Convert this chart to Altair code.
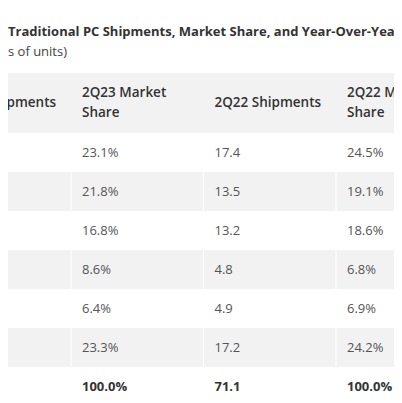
import altair as alt
import pandas as pd

# ---- data ----
title_text = "Traditional PC Shipments, Market Share, and Year-Over-Year Growth, Q2 2023"
subtitle_text = "s of units)"
columns = ["Company", "2Q23 Shipments", "2Q23 Market Share", "2Q22 Shipments",
           "2Q22 Market Share", "Year-Over-Year Growth"]
header_labels = ["Company", "2Q23 Shipments", "2Q23 Market\nShare", "2Q22 Shipments",
                 "2Q22 Market\nShare", "Year-Over-Year\nGrowth"]
companies = ["Lenovo", "HP", "Dell", "Apple", "Asus", "Others", "Total"]
share_2q23 = ["23.1%", "21.8%", "16.8%", "8.6%", "6.4%", "23.3%", "100.0%"]
ship_2q22 = ["17.4", "13.5", "13.2", "4.8", "4.9", "17.2", "71.1"]
share_2q22 = ["24.5%", "19.1%", "18.6%", "6.8%", "6.9%", "24.2%", "100.0%"]
visible_header_cols = ["2Q23 Shipments", "2Q23 Market Share", "2Q22 Shipments", "2Q22 Market Share"]
separator_cols = ["2Q23 Market Share", "2Q22 Shipments", "2Q22 Market Share"]

# ---- tables built from the lists ----
rows_df = pd.DataFrame({
    "company": companies,
    "shade": ["white" if i % 2 == 0 else "gray" for i in range(len(companies))],
})
cells = []
for i, c in enumerate(companies):
    for col, vals in (("2Q23 Market Share", share_2q23),
                      ("2Q22 Shipments", ship_2q22),
                      ("2Q22 Market Share", share_2q22)):
        cells.append({"company": c, "col": col, "ci": columns.index(col),
                      "val": vals[i], "total": c == "Total"})
cells_df = pd.DataFrame(cells)
hdr_df = pd.DataFrame({"col": columns, "ci": list(range(len(columns))), "label": header_labels})
hdr_df = hdr_df[hdr_df["col"].isin(visible_header_cols)].copy()
hdr_df["multi"] = hdr_df["label"].str.contains("\n")
sep_df = pd.DataFrame({"col": separator_cols, "ci": [columns.index(c) for c in separator_cols]})

FONT = "Open Sans"
W = 386
# column index -> left edge of the column (table scrolled so that only part is visible)
xscale = alt.Scale(type="linear", domain=[0, len(columns)], range=[-202, 593],
                   zero=False, nice=False)
yscale = alt.Scale(type="band", domain=companies, range=[60, 333],
                   paddingInner=0, paddingOuter=0, round=False)
X = alt.X("ci:Q", scale=xscale, axis=None)

header_bg = alt.Chart(alt.Data(values=[{"a": 1}])).mark_rect(color="#f2f2f2").encode(
    x=alt.value(0), x2=alt.value(W), y=alt.value(0), y2=alt.value(60))

body_bg = alt.Chart(rows_df).mark_rect().encode(
    x=alt.value(0), x2=alt.value(W),
    y=alt.Y("company:N", scale=yscale, axis=None),
    color=alt.Color("shade:N", scale=alt.Scale(domain=["white", "gray"],
                                               range=["#ffffff", "#f2f2f2"]), legend=None))

seps = alt.Chart(sep_df).mark_rule(color="#ffffff", strokeWidth=1).encode(
    x=X, y=alt.value(60), y2=alt.value(340))

hdr_style = dict(align="left", baseline="middle", dx=11, font=FONT, fontSize=13.5,
                 fontWeight=600, color="#333333", lineBreak="\n", lineHeight=20)
header_one = alt.Chart(hdr_df).transform_filter("!datum.multi").mark_text(**hdr_style).encode(
    x=X, y=alt.value(30), text="label:N")
header_two = alt.Chart(hdr_df).transform_filter("datum.multi").mark_text(dy=-10, **hdr_style).encode(
    x=X, y=alt.value(30), text="label:N")

val_txt = alt.Chart(cells_df).transform_filter("!datum.total").mark_text(
    align="left", baseline="middle", dx=11, font=FONT, fontSize=13, color="#555555").encode(
    x=X, y=alt.Y("company:N", scale=yscale, axis=None), text="val:N")

tot_txt = alt.Chart(cells_df).transform_filter("datum.total").mark_text(
    align="left", baseline="middle", dx=11, font=FONT, fontSize=13, fontWeight="bold",
    color="#333333").encode(
    x=X, y=alt.Y("company:N", scale=yscale, axis=None), text="val:N")

title = alt.Chart(alt.Data(values=[{"t": title_text}])).mark_text(
    align="left", baseline="alphabetic", font=FONT, fontSize=13, fontWeight="bold",
    color="#333333").encode(x=alt.value(0), y=alt.value(-37), text="t:N")

subtitle = alt.Chart(alt.Data(values=[{"t": subtitle_text}])).mark_text(
    align="left", baseline="alphabetic", font=FONT, fontSize=13, color="#444444").encode(
    x=alt.value(0), y=alt.value(-17), text="t:N")

chart = alt.layer(header_bg, body_bg, seps, header_one, header_two, val_txt, tot_txt,
                  title, subtitle).properties(
    width=W, height=322,
    autosize=alt.AutoSizeParams(type="none"),
    padding={"left": 0, "top": 65, "right": 0, "bottom": 0},
    background="#ffffff",
).configure_view(stroke=None)

chart.save("out.html", embed_options={"renderer": "svg", "actions": False})
